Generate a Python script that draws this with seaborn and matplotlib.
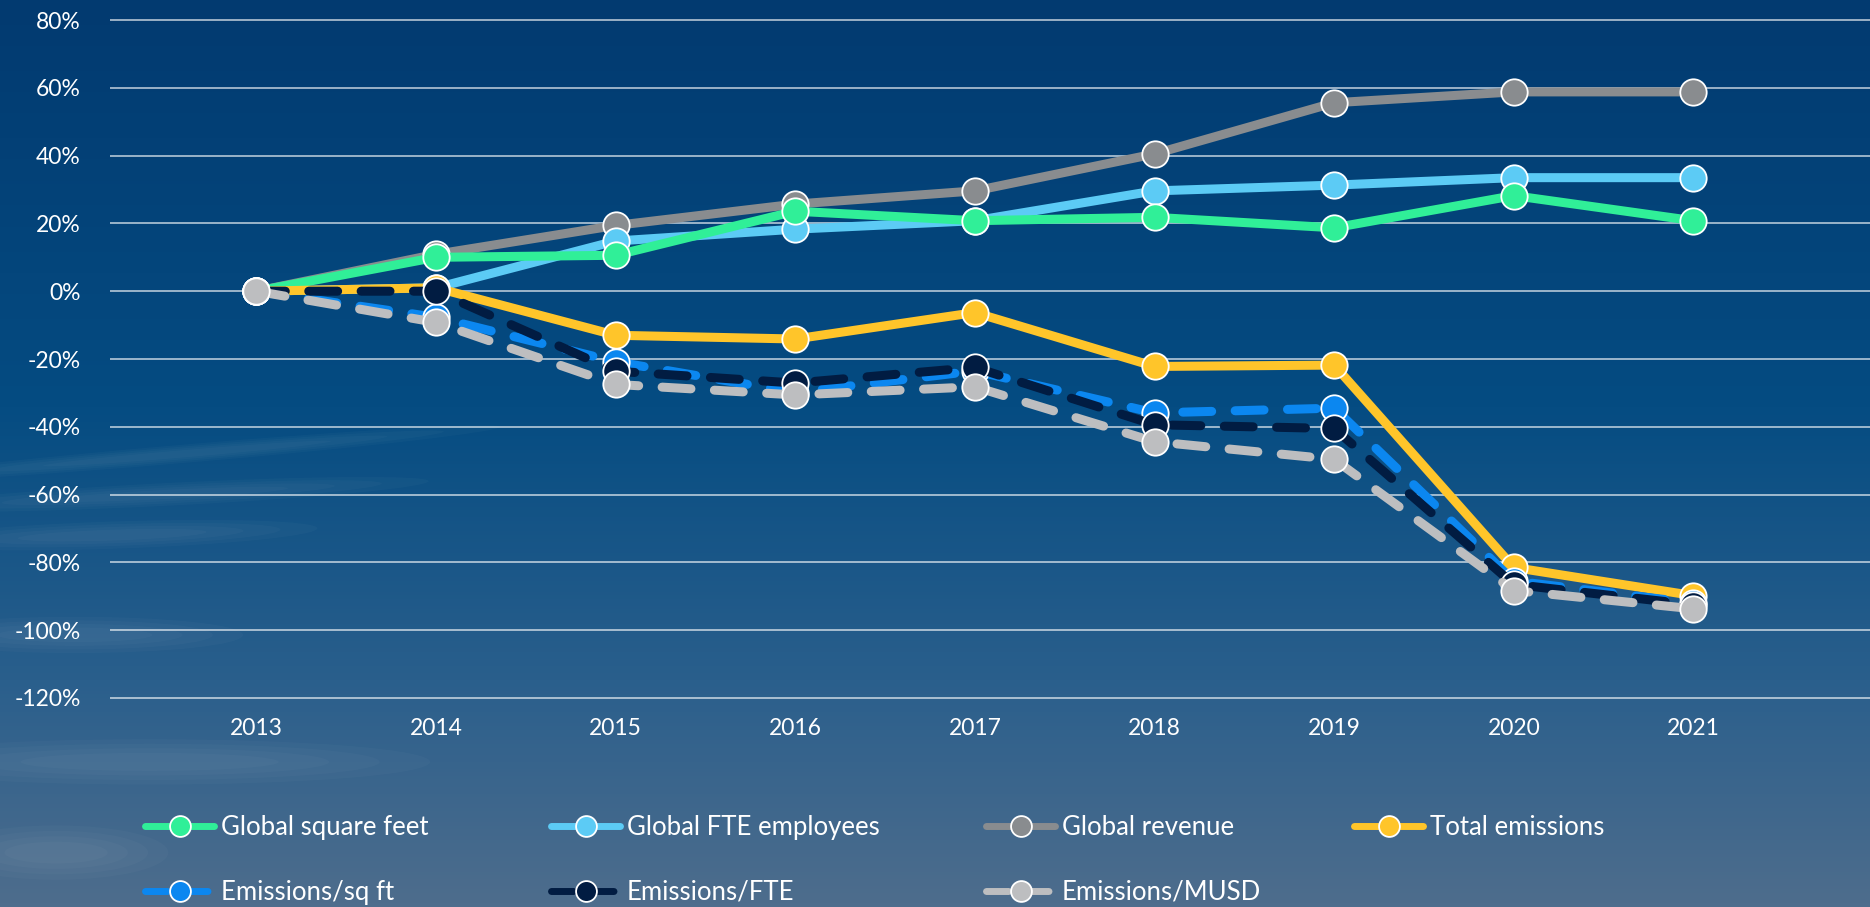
import numpy as np
import pandas as pd
import seaborn as sns
import matplotlib.pyplot as plt
from matplotlib.colors import LinearSegmentedColormap
from matplotlib.patches import Ellipse

# data (percent change vs 2013)
years = [2013, 2014, 2015, 2016, 2017, 2018, 2019, 2020, 2021]
sq_feet = [0, 10, 10.6, 23.6, 20.8, 21.8, 18.7, 28.2, 20.8]
fte_employees = [0, 1, 14.8, 18.3, 20.8, 29.6, 31.3, 33.5, 33.5]
revenue = [0, 10.9, 19.4, 25.7, 29.6, 40.5, 55.6, 58.8, 58.8]
total_emissions = [0, 1, -13, -14.1, -6.3, -22.2, -21.8, -81.5, -89.8]
em_sqft = [0, -7.7, -20.8, -29.9, -23.5, -35.9, -34.5, -85.5, -92]
em_fte = [0, 0, -23.6, -27.1, -22.5, -39.4, -40.5, -86.5, -92.5]
em_musd = [0, -9.2, -27.5, -30.6, -28.2, -44.4, -49.6, -88.3, -93.7]

y_ticks = [80, 60, 40, 20, 0, -20, -40, -60, -80, -100, -120]

# plotting order: (label, values, color, dashed)
series = [
    ("Global revenue", revenue, "#898c8f", False),
    ("Global FTE employees", fte_employees, "#5ccbf5", False),
    ("Global square feet", sq_feet, "#30ef98", False),
    ("Total emissions", total_emissions, "#ffc52a", False),
    ("Emissions/sq ft", em_sqft, "#0b87f0", True),
    ("Emissions/FTE", em_fte, "#011c42", True),
    ("Emissions/MUSD", em_musd, "#bdbec0", True),
]

# legend columns, left to right
legend_cols = [
    ["Global square feet", "Emissions/sq ft"],
    ["Global FTE employees", "Emissions/FTE"],
    ["Global revenue", "Emissions/MUSD"],
    ["Total emissions"],
]

sns.set_theme(style="dark")
plt.rcParams["font.family"] = ["Lato", "DejaVu Sans"]

W, H = 1870, 907
fig = plt.figure(figsize=(W / 100, H / 100), dpi=100)

# sky background
bg = fig.add_axes([0, 0, 1, 1], zorder=-10)
sky = LinearSegmentedColormap.from_list(
    "sky", [(0, "#023a70"), (0.45, "#054c82"), (0.75, "#2a5f8c"), (1, "#4e6d8d")])
grad = np.linspace(0, 1, 256).reshape(-1, 1)
bg.imshow(grad, cmap=sky, aspect="auto", extent=[0, 1, 0, 1], origin="upper")
# faint cloud streaks, bottom left
for cx, cy, w, h, ang in [(0.10, 0.50, 0.34, 0.02, 10), (0.09, 0.455, 0.28, 0.025, 6),
                          (0.06, 0.41, 0.22, 0.03, 4), (0.04, 0.30, 0.18, 0.04, 0),
                          (0.08, 0.16, 0.30, 0.05, 0), (0.03, 0.06, 0.12, 0.06, 0)]:
    for k in range(4):
        bg.add_patch(Ellipse((cx, cy), w * (1 - 0.18 * k), h * (1 - 0.2 * k), angle=ang,
                             color="white", alpha=0.025, lw=0))
bg.set_xlim(0, 1)
bg.set_ylim(0, 1)
bg.axis("off")

ax = fig.add_axes([110 / W, (H - 700) / H, 1 - 110 / W, (700 - 18) / H])
ax.patch.set_alpha(0)

for label, vals, color, dashed in series:
    ls = (0, (3.2, 2.6)) if dashed else "-"
    sns.lineplot(x=years, y=vals, ax=ax, color=color, label=label,
                 linewidth=6.5, linestyle=ls, dash_capstyle="round",
                 solid_capstyle="round", marker="o", markersize=19,
                 markeredgecolor="white", markeredgewidth=1.3)

ax.set_xlim(2012.185, 2021.983)
ax.set_ylim(-120.6, 80.6)
ax.set_yticks(y_ticks)
ax.set_yticklabels([f"{t}%" for t in y_ticks])
ax.set_xticks(years)
ax.set_xticklabels([str(y) for y in years])
ax.grid(axis="y", color="white", alpha=0.65, linewidth=1.3)
ax.grid(axis="x", visible=False)
ax.set_axisbelow(True)
for s in ax.spines.values():
    s.set_visible(False)
ax.tick_params(axis="y", length=0, pad=21, labelsize=16.5, labelcolor="white")
ax.tick_params(axis="x", length=0, pad=13, labelsize=16.5, labelcolor="white")
ax.set_xlabel("")
ax.set_ylabel("")

handles, labels = ax.get_legend_handles_labels()
ax.get_legend().remove()
lookup = dict(zip(labels, handles))
col_x = [145, 551, 986, 1354]
for cx, names in zip(col_x, legend_cols):
    leg = fig.legend([lookup[k] for k in names], names, loc="upper left",
                     bbox_to_anchor=(cx / W, 1 - 815 / H), ncol=1, frameon=False,
                     fontsize=18.5, labelcolor="white", handlelength=2.7,
                     handletextpad=0.25, labelspacing=1.55,
                     borderpad=0, borderaxespad=0)
    for h in leg.legend_handles:
        h.set_markersize(15)
        h.set_linewidth(5)

fig.savefig("out.png", dpi=100)
